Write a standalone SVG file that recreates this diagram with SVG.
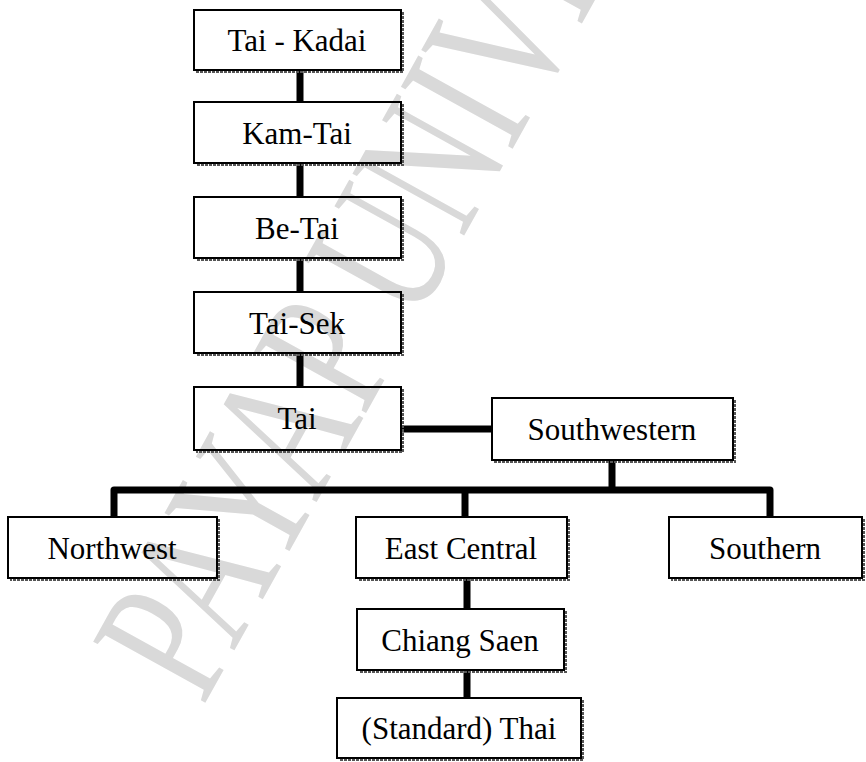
<svg xmlns="http://www.w3.org/2000/svg" width="866" height="762" viewBox="0 0 866 762">
  <style>
    .box { fill: none; stroke: #000; stroke-width: 2; }
    .shadow { fill: none; stroke: #555; stroke-width: 2; stroke-dasharray: 3 1; }
    .label { font-family: "Liberation Serif", "Times New Roman", serif; font-size: 31px; fill: #000; text-anchor: middle; }
    .link { fill: none; stroke: #000; stroke-width: 7; stroke-linejoin: round; }
    .mark { font-family: "Liberation Serif", "Times New Roman", serif; font-size: 195px; fill: #d9d9d9; }
  </style>
  <rect width="866" height="762" fill="#fff"/>

  <!-- background watermark, tall narrow letters along the diagonal -->
  <text class="mark" transform="translate(203,707) rotate(-61) scale(0.70,1)">PAYAP UNIVERSITY</text>

  <!-- connectors -->
  <g id="connectors">
    <path class="link" d="M300,70 V102"/>
    <path class="link" d="M300,163 V197"/>
    <path class="link" d="M300,258 V292"/>
    <path class="link" d="M300,353 V387"/>
    <path class="link" d="M401,429 H492"/>
    <path class="link" d="M612,460 V490"/>
    <path class="link" d="M114,517 V490 H770 V517"/>
    <path class="link" d="M465,490 V517"/>
    <path class="link" d="M467,578 V609"/>
    <path class="link" d="M467,670 V698"/>
  </g>

  <g id="tai-kadai">
    <polyline class="shadow" points="403,12 403,72 196,72"/>
    <rect class="box" x="194" y="10" width="207" height="60"/>
    <text class="label" x="297" y="51">Tai - Kadai</text>
  </g>
  <g id="kam-tai">
    <polyline class="shadow" points="403,104 403,165 196,165"/>
    <rect class="box" x="194" y="102" width="207" height="61"/>
    <text class="label" x="297" y="144">Kam-Tai</text>
  </g>
  <g id="be-tai">
    <polyline class="shadow" points="403,199 403,260 196,260"/>
    <rect class="box" x="194" y="197" width="207" height="61"/>
    <text class="label" x="297" y="239">Be-Tai</text>
  </g>
  <g id="tai-sek">
    <polyline class="shadow" points="403,294 403,355 196,355"/>
    <rect class="box" x="194" y="292" width="207" height="61"/>
    <text class="label" x="297" y="334">Tai-Sek</text>
  </g>
  <g id="tai">
    <polyline class="shadow" points="403,389 403,452 196,452"/>
    <rect class="box" x="194" y="387" width="207" height="63"/>
    <text class="label" x="297" y="429">Tai</text>
  </g>
  <g id="southwestern">
    <polyline class="shadow" points="735,400 735,462 494,462"/>
    <rect class="box" x="492" y="398" width="241" height="62"/>
    <text class="label" x="612" y="440">Southwestern</text>
  </g>
  <g id="northwest">
    <polyline class="shadow" points="219,519 219,580 10,580"/>
    <rect class="box" x="8" y="517" width="209" height="61"/>
    <text class="label" x="112" y="559">Northwest</text>
  </g>
  <g id="east-central">
    <polyline class="shadow" points="569,519 569,580 358,580"/>
    <rect class="box" x="356" y="517" width="211" height="61"/>
    <text class="label" x="461" y="559">East Central</text>
  </g>
  <g id="southern">
    <polyline class="shadow" points="864,519 864,580 671,580"/>
    <rect class="box" x="669" y="517" width="193" height="61"/>
    <text class="label" x="765" y="559">Southern</text>
  </g>
  <g id="chiang-saen">
    <polyline class="shadow" points="566,611 566,672 359,672"/>
    <rect class="box" x="357" y="609" width="207" height="61"/>
    <text class="label" x="460" y="651">Chiang Saen</text>
  </g>
  <g id="standard-thai">
    <polyline class="shadow" points="583,700 583,760 339,760"/>
    <rect class="box" x="337" y="698" width="244" height="60"/>
    <text class="label" x="459" y="739">(Standard) Thai</text>
  </g>
</svg>
